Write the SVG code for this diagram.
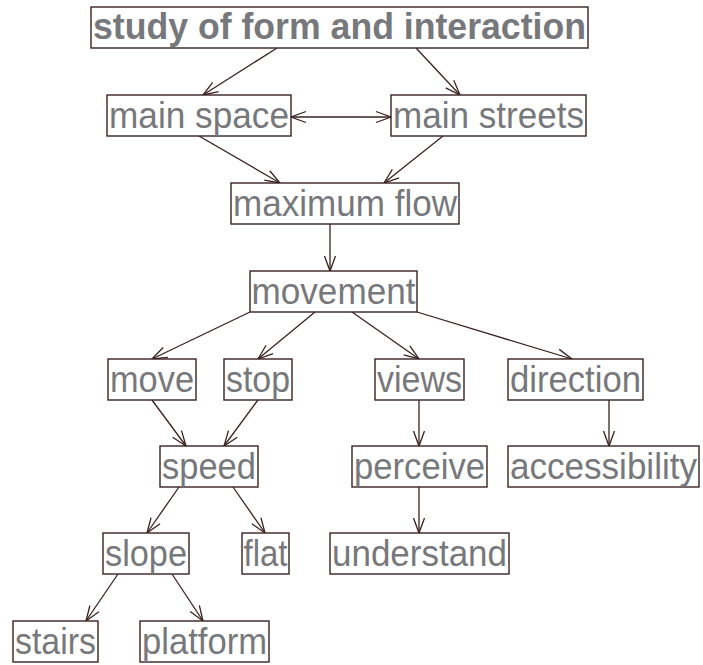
<svg xmlns="http://www.w3.org/2000/svg" width="703" height="665" viewBox="0 0 703 665">
<style>
.box{fill:#ffffff;stroke:#3a2222;stroke-width:1.4}
.lbl{font-family:"Liberation Sans",Arial,sans-serif;font-size:36px;fill:#77787b;text-anchor:middle}
.bold{font-weight:bold;font-size:36px}
.edge{fill:none;stroke:#3a2222;stroke-width:1.3}
</style>
<defs>
<marker id="arr" markerUnits="userSpaceOnUse" viewBox="-16 -8 18 16" refX="0" refY="0" markerWidth="18" markerHeight="16" orient="auto-start-reverse">
<path d="M-15,-5.5 L0,0 L-15,5.5" fill="none" stroke="#3a2222" stroke-width="1.3"/>
</marker>
</defs>
<rect width="703" height="665" fill="#ffffff"/>
<g id="connectors">
<line class="edge" x1="277" y1="48" x2="203" y2="95" marker-end="url(#arr)"/>
<line class="edge" x1="416" y1="48" x2="460" y2="95" marker-end="url(#arr)"/>
<line class="edge" x1="291" y1="117" x2="391" y2="117" marker-start="url(#arr)" marker-end="url(#arr)"/>
<line class="edge" x1="199" y1="136" x2="280" y2="183" marker-end="url(#arr)"/>
<line class="edge" x1="443" y1="136" x2="384" y2="183" marker-end="url(#arr)"/>
<line class="edge" x1="330" y1="224" x2="330" y2="271" marker-end="url(#arr)"/>
<line class="edge" x1="250" y1="312" x2="152" y2="359" marker-end="url(#arr)"/>
<line class="edge" x1="315" y1="312" x2="258" y2="359" marker-end="url(#arr)"/>
<line class="edge" x1="352" y1="312" x2="419" y2="359" marker-end="url(#arr)"/>
<line class="edge" x1="417" y1="312" x2="572" y2="359" marker-end="url(#arr)"/>
<line class="edge" x1="152" y1="400" x2="186" y2="446" marker-end="url(#arr)"/>
<line class="edge" x1="258" y1="400" x2="224" y2="446" marker-end="url(#arr)"/>
<line class="edge" x1="419" y1="400" x2="419" y2="446" marker-end="url(#arr)"/>
<line class="edge" x1="609" y1="400" x2="609" y2="446" marker-end="url(#arr)"/>
<line class="edge" x1="179" y1="487" x2="147" y2="533" marker-end="url(#arr)"/>
<line class="edge" x1="233" y1="487" x2="265" y2="533" marker-end="url(#arr)"/>
<line class="edge" x1="419" y1="487" x2="419" y2="533" marker-end="url(#arr)"/>
<line class="edge" x1="118" y1="574" x2="86" y2="621" marker-end="url(#arr)"/>
<line class="edge" x1="172" y1="574" x2="203" y2="621" marker-end="url(#arr)"/>
</g>
<g id="n-study"><rect class="box" x="91" y="7" width="497" height="41"/><text class="lbl bold" x="339.5" y="39" textLength="493" lengthAdjust="spacingAndGlyphs">study of form and interaction</text></g>
<g id="n-mainspace"><rect class="box" x="107" y="95" width="184" height="41"/><text class="lbl" x="199" y="128" textLength="180" lengthAdjust="spacingAndGlyphs">main space</text></g>
<g id="n-mainstreets"><rect class="box" x="391" y="95" width="195" height="41"/><text class="lbl" x="488.5" y="128" textLength="191" lengthAdjust="spacingAndGlyphs">main streets</text></g>
<g id="n-maxflow"><rect class="box" x="231" y="183" width="228" height="41"/><text class="lbl" x="345" y="216" textLength="224" lengthAdjust="spacingAndGlyphs">maximum flow</text></g>
<g id="n-movement"><rect class="box" x="250" y="271" width="167" height="41"/><text class="lbl" x="333.5" y="304" textLength="164" lengthAdjust="spacingAndGlyphs">movement</text></g>
<g id="n-move"><rect class="box" x="108" y="359" width="88" height="41"/><text class="lbl" x="152" y="392" textLength="84" lengthAdjust="spacingAndGlyphs">move</text></g>
<g id="n-stop"><rect class="box" x="224" y="359" width="68" height="41"/><text class="lbl" x="258" y="392" textLength="64" lengthAdjust="spacingAndGlyphs">stop</text></g>
<g id="n-views"><rect class="box" x="375" y="359" width="89" height="41"/><text class="lbl" x="419.5" y="392" textLength="85" lengthAdjust="spacingAndGlyphs">views</text></g>
<g id="n-direction"><rect class="box" x="508" y="359" width="135" height="41"/><text class="lbl" x="575.5" y="392" textLength="131" lengthAdjust="spacingAndGlyphs">direction</text></g>
<g id="n-speed"><rect class="box" x="160" y="446" width="98" height="41"/><text class="lbl" x="209" y="479" textLength="94" lengthAdjust="spacingAndGlyphs">speed</text></g>
<g id="n-perceive"><rect class="box" x="352" y="446" width="135" height="41"/><text class="lbl" x="419.5" y="479" textLength="131" lengthAdjust="spacingAndGlyphs">perceive</text></g>
<g id="n-accessibility"><rect class="box" x="508" y="446" width="191" height="41"/><text class="lbl" x="603.5" y="479" textLength="187" lengthAdjust="spacingAndGlyphs">accessibility</text></g>
<g id="n-slope"><rect class="box" x="103" y="533" width="86" height="41"/><text class="lbl" x="146" y="566" textLength="82" lengthAdjust="spacingAndGlyphs">slope</text></g>
<g id="n-flat"><rect class="box" x="242" y="533" width="47" height="41"/><text class="lbl" x="265.5" y="566" textLength="44" lengthAdjust="spacingAndGlyphs">flat</text></g>
<g id="n-understand"><rect class="box" x="330" y="533" width="179" height="41"/><text class="lbl" x="419.5" y="566" textLength="175" lengthAdjust="spacingAndGlyphs">understand</text></g>
<g id="n-stairs"><rect class="box" x="13" y="621" width="85" height="41"/><text class="lbl" x="55.5" y="654" textLength="81" lengthAdjust="spacingAndGlyphs">stairs</text></g>
<g id="n-platform"><rect class="box" x="140" y="621" width="129" height="41"/><text class="lbl" x="204.5" y="654" textLength="125" lengthAdjust="spacingAndGlyphs">platform</text></g>
</svg>
